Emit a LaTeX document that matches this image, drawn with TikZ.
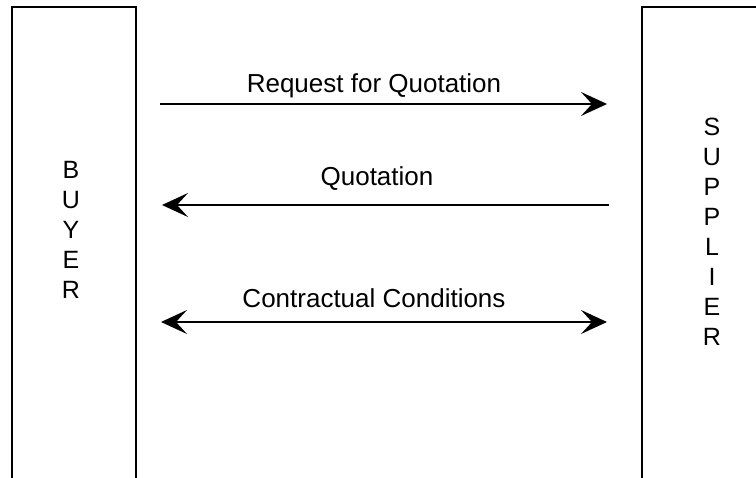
\documentclass[tikz,border=0pt]{standalone}
\usepackage{fontspec}
\setmainfont{Liberation Sans}
\usetikzlibrary{arrows.meta}
\begin{document}
\begin{tikzpicture}[x=1pt,y=-1pt,
  party/.style={draw=black,line width=2pt,rectangle,inner sep=0pt},
  lbl/.style={font=\fontsize{26}{30}\selectfont,inner sep=0pt},
  stack/.style={font=\fontsize{25}{30}\selectfont,align=center,inner sep=0pt},
  arr/.style={line width=2pt,-{Stealth[length=26pt,width=24pt,inset=11pt]}},
  darr/.style={line width=2pt,{Stealth[length=26pt,width=24pt,inset=11pt]}-{Stealth[length=26pt,width=24pt,inset=11pt]}}]
\useasboundingbox (0,0) rectangle (756,478);
\draw[party] (12,520) -- (12,7) -- (136,7) -- (136,520);
\draw[party] (642,520) -- (642,7) -- (800,7);
\node[stack] (buyer) at (71,230) {B\\U\\Y\\E\\R};
\node[stack] (supplier) at (712,232) {S\\U\\P\\P\\L\\I\\E\\R};
\coordinate (a1s) at (160,104);
\coordinate (a1e) at (607,104);
\coordinate (a2s) at (609,205);
\coordinate (a2e) at (162,205);
\coordinate (a3s) at (161,322);
\coordinate (a3e) at (607,322);
\draw[arr] (a1s) -- (a1e);
\draw[arr] (a2s) -- (a2e);
\draw[darr] (a3s) -- (a3e);
\node[lbl] (l1) at (374,86) {Request for Quotation};
\node[lbl] (l2) at (377,179) {Quotation};
\node[lbl] (l3) at (374,298) {Contractual Conditions};
\end{tikzpicture}
\end{document}
